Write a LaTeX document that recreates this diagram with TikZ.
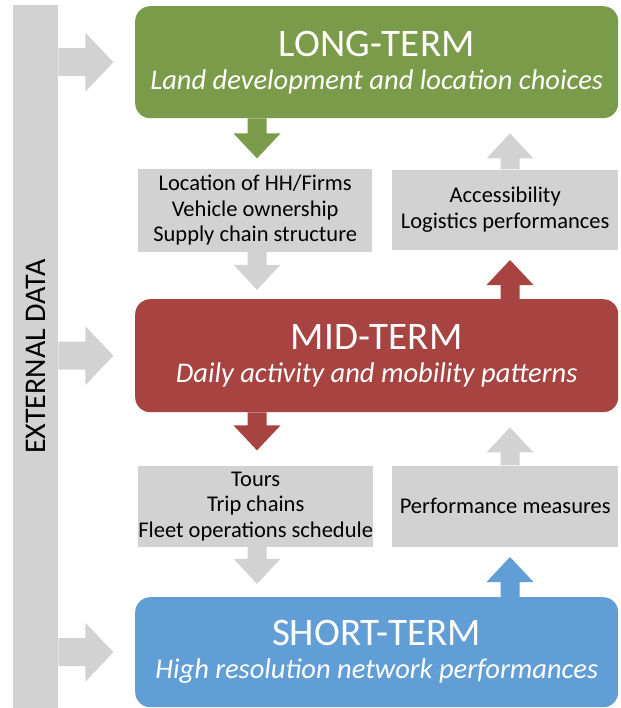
\documentclass[tikz,border=0pt]{standalone}
\usepackage{fontspec}
\setmainfont{Carlito}
\usetikzlibrary{positioning,calc}

\definecolor{longc}{RGB}{122,155,73}
\definecolor{midc}{RGB}{167,68,65}
\definecolor{shortc}{RGB}{98,158,214}
\definecolor{greyc}{RGB}{210,210,210}

\newcommand\titlefont{\fontsize{39}{39}\selectfont}
\newcommand\subfont{\fontsize{28.5}{30}\selectfont\itshape}

% block arrows: colour, start point, length
\newcommand\arrowdown[3]{\fill[#1] let \p1=#2 in (\x1-9.5pt,\y1) |- (\x1-23.5pt,\y1-#3+25pt) -- (\x1,\y1-#3) -- (\x1+23.5pt,\y1-#3+25pt) -| (\x1+9.5pt,\y1) -- cycle;}
\newcommand\arrowup[3]{\fill[#1] let \p1=#2 in (\x1-9.5pt,\y1) |- (\x1-23.5pt,\y1+#3-25pt) -- (\x1,\y1+#3) -- (\x1+23.5pt,\y1+#3-25pt) -| (\x1+9.5pt,\y1) -- cycle;}

\begin{document}
\begin{tikzpicture}[x=1pt,y=-1pt,
  term/.style={rounded corners=15pt,text=white,align=center,minimum width=483pt,minimum height=112pt,anchor=north west,inner sep=0pt},
  info/.style={fill=greyc,align=center,font=\fontsize{22.5}{25.5}\selectfont,inner sep=0pt,minimum height=81pt}]
  \useasboundingbox (0,0) rectangle (620,708);

  \node[fill=greyc,minimum width=45pt,minimum height=703pt,anchor=north west,inner sep=0pt] (ext) at (13,5) {};
  \node[rotate=90,font=\fontsize{30}{30}\selectfont] (extlabel) at (ext.center) {EXTERNAL DATA};

  \node[term,fill=longc] (long) at (135,6) {\titlefont LONG-TERM\\[12pt]\subfont Land development and location choices};
  \node[term,fill=midc,minimum height=113pt] (mid) at (135,299) {\titlefont MID-TERM\\[12pt]\subfont Daily activity and mobility patterns};
  \node[term,fill=shortc,minimum height=110pt] (short) at (135,597) {\titlefont SHORT-TERM\\[12pt]\subfont High resolution network performances};

  \node[info,below right=50pt and 3pt of long.south west,minimum width=234pt,minimum height=83pt] (loc) {Location of HH/Firms\\Vehicle ownership\\Supply chain structure};
  \node[info,below left=51pt and 0pt of long.south east,minimum width=226pt,minimum height=80pt] (acc) {Accessibility\\Logistics performances};
  \node[info,below right=53pt and 3pt of mid.south west,minimum width=235pt] (tours) {Tours\\Trip chains\\Fleet operations schedule};
  \node[info,below left=53pt and 0pt of mid.south east,minimum width=226pt] (perf) {Performance measures};

  \coordinate (lx) at (257,0);
  \coordinate (rx) at (510,0);

  % external data into each level
  \foreach \t in {long,mid,short}
    \fill[greyc] let \p1=(ext.east |- \t.west) in (\x1,\y1+14pt) -- (\x1+27pt,\y1+14pt) -- (\x1+27pt,\y1+29.5pt) -- (\x1+55pt,\y1) -- (\x1+27pt,\y1-29.5pt) -- (\x1+27pt,\y1-14pt) -- (\x1,\y1-14pt) -- cycle;

  % downward chain
  \arrowdown{longc}{(long.south -| lx)}{40pt}
  \arrowdown{greyc}{(loc.south -| lx)}{38pt}
  \arrowdown{midc}{(mid.south -| lx)}{38pt}
  \arrowdown{greyc}{(tours.south -| lx)}{37pt}

  % upward chain
  \arrowup{shortc}{(short.north -| rx)}{40pt}
  \arrowup{greyc}{(perf.north -| rx)}{38pt}
  \arrowup{midc}{(mid.north -| rx)}{39pt}
  \arrowup{greyc}{(acc.north -| rx)}{36pt}
\end{tikzpicture}
\end{document}
